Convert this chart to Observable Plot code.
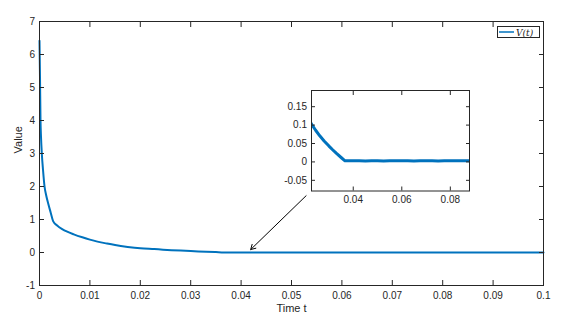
<!DOCTYPE html>
<html>
<head>
<meta charset="utf-8">
<script src="https://cdn.jsdelivr.net/npm/d3@7"></script>
<script src="https://cdn.jsdelivr.net/npm/@observablehq/plot@0.6"></script>
<style>
  body { margin: 0; background: white; }
  #wrap { position: relative; width: 569px; height: 322px; font-family: "Liberation Sans", Arial, sans-serif; }
  #wrap svg { position: absolute; }
  #legend { position: absolute; left: 497px; top: 26px; width: 41px; height: 10px; border: 1px solid #262626; background: white; }
</style>
</head>
<body>
<div id="wrap"></div>
<script>
// Time samples and values of V(t)
const timeT = [0, 0.0001, 0.0002, 0.0003, 0.00046, 0.0007, 0.001, 0.0013, 0.0017, 0.0022, 0.0027,
  0.0035, 0.0045, 0.0055, 0.0068, 0.0085, 0.01, 0.0115, 0.0134, 0.015, 0.0175, 0.02, 0.0228,
  0.0245, 0.0262, 0.028, 0.030, 0.0315, 0.0331, 0.035, 0.0366,
  0.0375, 0.04, 0.0425, 0.045, 0.0475, 0.05, 0.0525, 0.055, 0.0575, 0.06, 0.0625, 0.065, 0.0675,
  0.07, 0.0725, 0.075, 0.0775, 0.08, 0.0825, 0.085, 0.0875, 0.09, 0.0925, 0.095, 0.0975, 0.1];
const valueV = [6.42, 5.3, 4.0, 3.5, 3.0, 2.5, 2.0, 1.75, 1.5, 1.22, 0.95,
  0.82, 0.71, 0.63, 0.55, 0.46, 0.39, 0.33, 0.27, 0.225, 0.17, 0.128, 0.103,
  0.086, 0.071, 0.057, 0.043, 0.033, 0.023, 0.012, 0.003,
  0.003, 0.0035, 0.003, 0.0028, 0.0033, 0.003, 0.0027, 0.0034, 0.003, 0.0031, 0.0035, 0.0028, 0.003,
  0.0033, 0.003, 0.0027, 0.0034, 0.003, 0.0029, 0.0033, 0.003, 0.0031, 0.0034, 0.0028, 0.003, 0.0032];

// Axis ticks
const xTicks = [0, 0.01, 0.02, 0.03, 0.04, 0.05, 0.06, 0.07, 0.08, 0.09, 0.1];
const yTicks = [-1, 0, 1, 2, 3, 4, 5, 6, 7];
const insetXTicks = [0.04, 0.06, 0.08];
const insetYTicks = [-0.05, 0, 0.05, 0.1, 0.15];
const insetXDomain = [0.0228, 0.0879];
const insetYDomain = [-0.079, 0.194];

// Annotation arrow (data units): from inset corner to the zoomed region
const arrowFrom = [0.0529, 1.72];
const arrowTo = [0.0419, 0.09];

const data = timeT.map((t, i) => ({t, v: valueV[i]}));
const fmt = d => String(d);
const blank = () => "";
const axisColor = "#262626";
const blue = "#0072BD";

const main = Plot.plot({
  width: 569, height: 322,
  marginLeft: 39, marginRight: 26, marginTop: 21, marginBottom: 37,
  x: {domain: [0, 0.1]},
  y: {domain: [-1, 7]},
  style: {fontFamily: "Liberation Sans, Arial, sans-serif", fontSize: "10px", color: axisColor, background: "transparent"},
  marks: [
    Plot.line(data, {x: "t", y: "v", stroke: blue, strokeWidth: 2, curve: "monotone-x"}),
    Plot.frame({stroke: axisColor}),
    Plot.axisX({ticks: xTicks, anchor: "bottom", tickSize: -5, tickPadding: 11, tickFormat: fmt, label: null}),
    Plot.axisX({ticks: xTicks, anchor: "top", tickSize: -5, tickFormat: blank, label: null}),
    Plot.axisY({ticks: yTicks, anchor: "left", tickSize: -5, tickPadding: 9.5, tickFormat: fmt, label: null}),
    Plot.axisY({ticks: yTicks, anchor: "right", tickSize: -5, tickFormat: blank, label: null}),
    Plot.arrow([{a: arrowFrom, b: arrowTo}], {
      x1: d => d.a[0], y1: d => d.a[1], x2: d => d.b[0], y2: d => d.b[1],
      stroke: "black", strokeWidth: 1, headLength: 8
    }),
    Plot.text(["Value"], {frameAnchor: "left", dx: -21, rotate: -90, fontSize: 11, fill: axisColor}),
    Plot.text(["Time t"], {frameAnchor: "bottom", dy: 26, fontSize: 11, fill: axisColor})
  ]
});
main.style.left = "0px"; main.style.top = "0px";

const inset = Plot.plot({
  width: 200, height: 124,
  marginLeft: 38, marginRight: 4, marginTop: 4, marginBottom: 19.5,
  x: {domain: insetXDomain},
  y: {domain: insetYDomain},
  style: {fontFamily: "Liberation Sans, Arial, sans-serif", fontSize: "10px", color: axisColor, background: "transparent"},
  marks: [
    Plot.frame({fill: "white", stroke: "none"}),
    Plot.line(data, {x: "t", y: "v", stroke: blue, strokeWidth: 3, clip: true}),
    Plot.frame({stroke: axisColor}),
    Plot.axisX({ticks: insetXTicks, anchor: "bottom", tickSize: -4, tickPadding: 9, tickFormat: fmt, label: null}),
    Plot.axisX({ticks: insetXTicks, anchor: "top", tickSize: -4, tickFormat: blank, label: null}),
    Plot.axisY({ticks: insetYTicks, anchor: "left", tickSize: -4, tickPadding: 8.5, tickFormat: fmt, label: null}),
    Plot.axisY({ticks: insetYTicks, anchor: "right", tickSize: -4, tickFormat: blank, label: null})
  ]
});
inset.style.left = "273px"; inset.style.top = "86px";

const wrap = document.getElementById("wrap");
wrap.appendChild(main);
wrap.appendChild(inset);

// Legend
const legend = document.createElement("div");
legend.id = "legend";
legend.innerHTML = `<svg width="41" height="10" style="position:absolute;left:0;top:0">
  <line x1="1" y1="5" x2="16" y2="5" stroke="${blue}" stroke-width="1.5"></line>
  <text x="18" y="8.5" font-family="DejaVu Serif, Liberation Serif, serif" font-style="italic" font-size="9" fill="#222">V(t)</text>
</svg>`;
wrap.appendChild(legend);
</script>
</body>
</html>
